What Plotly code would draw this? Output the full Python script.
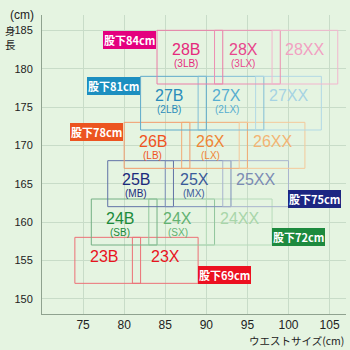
import plotly.graph_objects as go

# Size groups: height ranges (cm) and waist ranges (cm) for each fit
size_nums = [23, 24, 25, 26, 27, 28]
height_min = [152, 157, 162, 167, 172, 178]
height_max = [158, 163, 168, 173, 179, 185]
waist_b = [(74, 82), (76, 84), (78, 86), (80, 88), (82, 90), (84, 92)]
waist_x = [(81, 89), (83, 91), (85, 93), (87, 95), (89, 97), (91, 99)]
waist_xx = [None, (90, 98), (92, 100), (94, 102), (96, 104), (98, 106)]
alt_b = ["", "SB", "MB", "LB", "2LB", "3LB"]
alt_x = ["", "SX", "MX", "LX", "2LX", "3LX"]
inseam_cm = [69, 72, 75, 78, 81, 84]

x_ticks = [75, 80, 85, 90, 95, 100, 105]
y_ticks = [150, 155, 160, 165, 170, 175, 180, 185]

# colours per group: (B, X, XX) text, (B, X, XX) outline, inseam badge
text_colors = [
    ("#e8141e", "#e8141e", None),
    ("#1b8a3a", "#62b272", "#a9d6aa"),
    ("#1b2a7c", "#3b5a9a", "#7b8bb4"),
    ("#f0531f", "#f08535", "#f3b474"),
    ("#2a8cba", "#56aed0", "#a6d3e3"),
    ("#e52a7c", "#e8468c", "#f2a0c2"),
]
line_colors = [
    ("#ec7076", "#ec7076", None),
    ("#74b084", "#90c69c", "#b6dbba"),
    ("#6272a6", "#7c8eba", "#a9b5ce"),
    ("#f29b6c", "#f2aa74", "#f4c99a"),
    ("#5eaaca", "#82bed6", "#b2d9e5"),
    ("#ea7ca6", "#ec8eb2", "#f2b6ce"),
]
badge_colors = ["#ec1020", "#1d8a3e", "#1c2682", "#ec5420", "#1c8fc0", "#e4007f"]

NUM_FONT = "Liberation Sans, Arial, sans-serif"
JP_FONT = "Noto Sans CJK JP, sans-serif"

fig = go.Figure()
annotations = []

for i, s in enumerate(size_nums):
    lo, hi = height_min[i], height_max[i]
    fits = [("B", waist_b[i], alt_b[i]), ("X", waist_x[i], alt_x[i]), ("XX", waist_xx[i], "")]
    for k, (fit, rng, alt) in enumerate(fits):
        if rng is None:
            continue
        w0, w1 = rng
        fig.add_trace(go.Scatter(
            x=[w0, w1, w1, w0, w0], y=[lo, lo, hi, hi, lo],
            mode="lines", line=dict(color=line_colors[i][k], width=1),
            hoverinfo="skip", showlegend=False,
        ))
        # label sits in the part of the box not covered by the next fit
        nxt = fits[k + 1][1] if k + 1 < len(fits) else None
        cx = (w0 + nxt[0]) / 2 if nxt is not None else (w0 + w1) / 2
        annotations.append(dict(
            x=cx, y=hi, yshift=-19, xref="x", yref="y", text=f"{s}{fit}",
            showarrow=False, yanchor="middle",
            font=dict(family=NUM_FONT, size=16, color=text_colors[i][k]),
        ))
        if alt:
            annotations.append(dict(
                x=cx, y=hi, yshift=-33, xref="x", yref="y", text=f"({alt})",
                showarrow=False, yanchor="middle",
                font=dict(family=NUM_FONT, size=10, color=text_colors[i][k]),
            ))

    # inseam badge
    badge = dict(
        text=f"股下{inseam_cm[i]}cm", showarrow=False, xref="x", yref="y",
        bgcolor=badge_colors[i], borderpad=1, borderwidth=0,
        font=dict(family=JP_FONT, size=11, color="white", weight="bold"),
    )
    if s >= 26:
        badge.update(x=waist_b[i][0], y=hi, xanchor="right", yanchor="top", xshift=-1, yshift=-1)
    else:
        right = waist_xx[i][1] if waist_xx[i] is not None else waist_x[i][1]
        badge.update(x=right, y=lo, xanchor="left", yanchor="bottom", xshift=0, yshift=-1)
    annotations.append(badge)

# axis captions (plot area spans 304 x 299 px)
annotations += [
    dict(text="(cm)", x=-0.112, y=1.0, xref="paper", yref="paper", showarrow=False,
         xanchor="left", yanchor="middle", font=dict(family=NUM_FONT, size=12, color="#222")),
    dict(text="身<br>長", x=-0.105, y=0.9247, xref="paper", yref="paper", showarrow=False,
         xanchor="center", yanchor="middle", borderpad=0, borderwidth=0,
         font=dict(family=JP_FONT, size=10.5, color="#222")),
    dict(text="ウエストサイズ(cm)", x=1.0, y=-0.087, xref="paper", yref="paper", showarrow=False,
         xanchor="right", yanchor="middle", font=dict(family=JP_FONT, size=10.5, color="#222")),
]

bg = "#e5f4e1"
grid = "#c8dcc8"
axis_line = "#8fa28f"

fig.update_layout(
    width=350, height=350,
    margin=dict(l=42, r=4, t=15, b=36),
    paper_bgcolor=bg, plot_bgcolor=bg,
    showlegend=False,
    xaxis=dict(range=[70, 107], tickvals=x_ticks, showgrid=True, gridcolor=grid, gridwidth=1,
               zeroline=False, showline=True, linecolor=axis_line, linewidth=1, ticks="",
               tickfont=dict(family=NUM_FONT, size=12, color="#222"), fixedrange=True),
    yaxis=dict(range=[148, 187], tickvals=y_ticks, showgrid=True, gridcolor=grid, gridwidth=1,
               zeroline=False, showline=True, linecolor=axis_line, linewidth=1, ticks="",
               ticklabelstandoff=6,
               tickfont=dict(family=NUM_FONT, size=11, color="#222"), fixedrange=True),
    annotations=annotations,
)

fig.write_html("out.html")
